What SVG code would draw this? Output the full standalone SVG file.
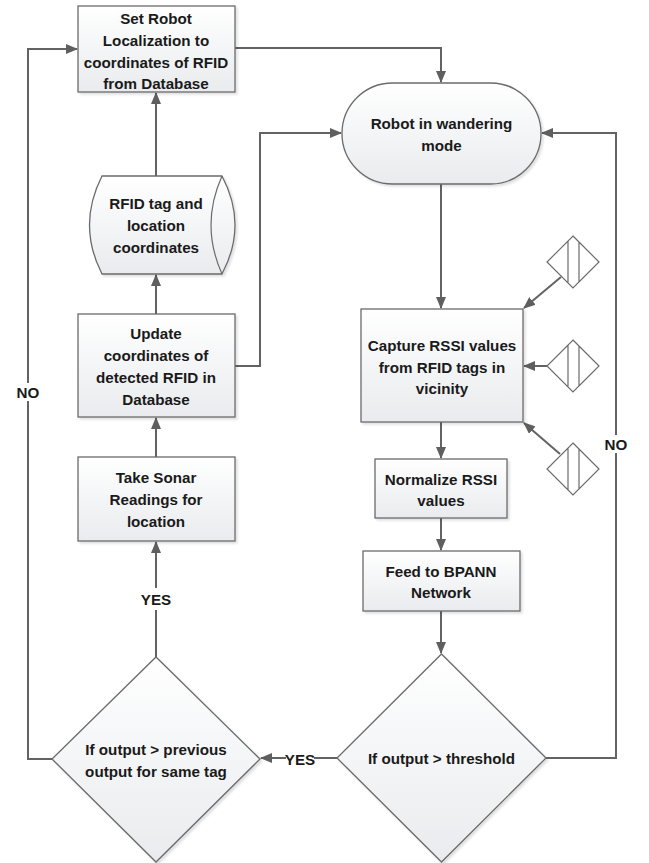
<svg xmlns="http://www.w3.org/2000/svg" width="649" height="863" viewBox="0 0 649 863">
<defs>
<linearGradient id="g" x1="0" y1="0" x2="0" y2="1">
<stop offset="0" stop-color="#ffffff"/>
<stop offset="1" stop-color="#e9ebee"/>
</linearGradient>
<filter id="sh" x="-10%" y="-10%" width="130%" height="130%">
<feDropShadow dx="2" dy="2" stdDeviation="1" flood-color="#000" flood-opacity="0.12"/>
</filter>
<marker id="ah" markerWidth="12" markerHeight="10" refX="11" refY="5" orient="auto" markerUnits="userSpaceOnUse">
<path d="M0,0 L12,5 L0,10 Z" fill="#5f5f5f"/>
</marker>
</defs>
<style>
.n{fill:url(#g);stroke:#6b6b6b;stroke-width:1.3;filter:url(#sh)}
.c{fill:none;stroke:#636363;stroke-width:2}
.t{font-family:"Liberation Sans",Arial,sans-serif;font-weight:bold;font-size:15.2px;fill:#1a1a1a;text-anchor:middle;dominant-baseline:central}
.tag{fill:#fff;stroke:#6b6b6b;stroke-width:1.2}
</style>
<rect width="649" height="863" fill="#fff"/>
<g id="connectors">
<path class="c" d="M235,48 H441 V82" marker-end="url(#ah)"/>
<path class="c" d="M235,366 H260 V133 H341" marker-end="url(#ah)"/>
<path class="c" d="M156,176 V93" marker-end="url(#ah)"/>
<path class="c" d="M156,314 V275" marker-end="url(#ah)"/>
<path class="c" d="M156,457 V418" marker-end="url(#ah)"/>
<path class="c" d="M156,657 V610 M156,588 V542" marker-end="url(#ah)"/>
<path class="c" d="M52,759 H28 V401 M28,383 V49 H77" marker-end="url(#ah)"/>
<path class="c" d="M441,184 V308" marker-end="url(#ah)"/>
<path class="c" d="M441,422 V458" marker-end="url(#ah)"/>
<path class="c" d="M441,518 V550" marker-end="url(#ah)"/>
<path class="c" d="M441,611 V653" marker-end="url(#ah)"/>
<path class="c" d="M337,758 H314 M286,758 H261" marker-end="url(#ah)"/>
<path class="c" d="M546,758 H616 V453 M616,435 V133 H542" marker-end="url(#ah)"/>
<path class="c" d="M561,277 L524,308" marker-end="url(#ah)"/>
<path class="c" d="M547,366 L524,366" marker-end="url(#ah)"/>
<path class="c" d="M560,454 L524,423" marker-end="url(#ah)"/>
<text class="t" x="156" y="599">YES</text>
<text class="t" x="300" y="759">YES</text>
<text class="t" x="28" y="392">NO</text>
<text class="t" x="616" y="444">NO</text>
</g>
<g id="set-localization">
<rect class="n" x="78" y="6" width="157" height="86"/>
<text class="t" x="156" y="18">Set Robot</text>
<text class="t" x="156" y="40">Localization to</text>
<text class="t" x="156" y="62">coordinates of RFID</text>
<text class="t" x="156" y="83">from Database</text>
</g>
<g id="wandering">
<rect class="n" x="342" y="83" width="199" height="101" rx="50.5" ry="50.5"/>
<text class="t" x="441.5" y="123">Robot in wandering</text>
<text class="t" x="441.5" y="145">mode</text>
</g>
<g id="rfid-store">
<path class="n" d="M102,176 H222 Q248,225 222,274 H102 Q77,225 102,176 Z"/>
<path fill="none" stroke="#6b6b6b" stroke-width="1.2" d="M222,176 Q200,225 222,274"/>
<text class="t" x="156" y="203">RFID tag and</text>
<text class="t" x="156" y="225">location</text>
<text class="t" x="156" y="247">coordinates</text>
</g>
<g id="update-coords">
<rect class="n" x="78" y="314" width="157" height="103"/>
<text class="t" x="156" y="333">Update</text>
<text class="t" x="156" y="355">coordinates of</text>
<text class="t" x="156" y="377">detected RFID in</text>
<text class="t" x="156" y="399">Database</text>
</g>
<g id="sonar">
<rect class="n" x="78" y="457" width="157" height="84"/>
<text class="t" x="156" y="477">Take Sonar</text>
<text class="t" x="156" y="499">Readings for</text>
<text class="t" x="156" y="521">location</text>
</g>
<g id="compare-previous">
<path class="n" d="M156,657 L260,759 L156,862 L52,759 Z"/>
<text class="t" x="156" y="749">If output &gt; previous</text>
<text class="t" x="156" y="771">output for same tag</text>
</g>
<g id="capture">
<rect class="n" x="361" y="309" width="162" height="113"/>
<text class="t" x="442" y="345">Capture RSSI values</text>
<text class="t" x="442" y="367">from RFID tags in</text>
<text class="t" x="442" y="388">vicinity</text>
</g>
<g id="tag1">
<path class="tag" d="M573,236 L599,262 L573,288 L547,262 Z M568,241 V283 M579,242 V282"/>
</g>
<g id="tag2">
<path class="tag" d="M573,340 L599,366 L573,392 L547,366 Z M568,345 V387 M579,346 V386"/>
</g>
<g id="tag3">
<path class="tag" d="M573,443 L599,469 L573,495 L547,469 Z M568,448 V490 M579,449 V489"/>
</g>
<g id="normalize">
<rect class="n" x="375" y="459" width="132" height="59"/>
<text class="t" x="441" y="479">Normalize RSSI</text>
<text class="t" x="441" y="500">values</text>
</g>
<g id="feed">
<rect class="n" x="363" y="551" width="157" height="60"/>
<text class="t" x="441" y="571">Feed to BPANN</text>
<text class="t" x="441" y="592">Network</text>
</g>
<g id="threshold">
<path class="n" d="M441.5,654 L546,758 L441.5,862 L337,758 Z"/>
<text class="t" x="441.5" y="758">If output &gt; threshold</text>
</g>
</svg>
